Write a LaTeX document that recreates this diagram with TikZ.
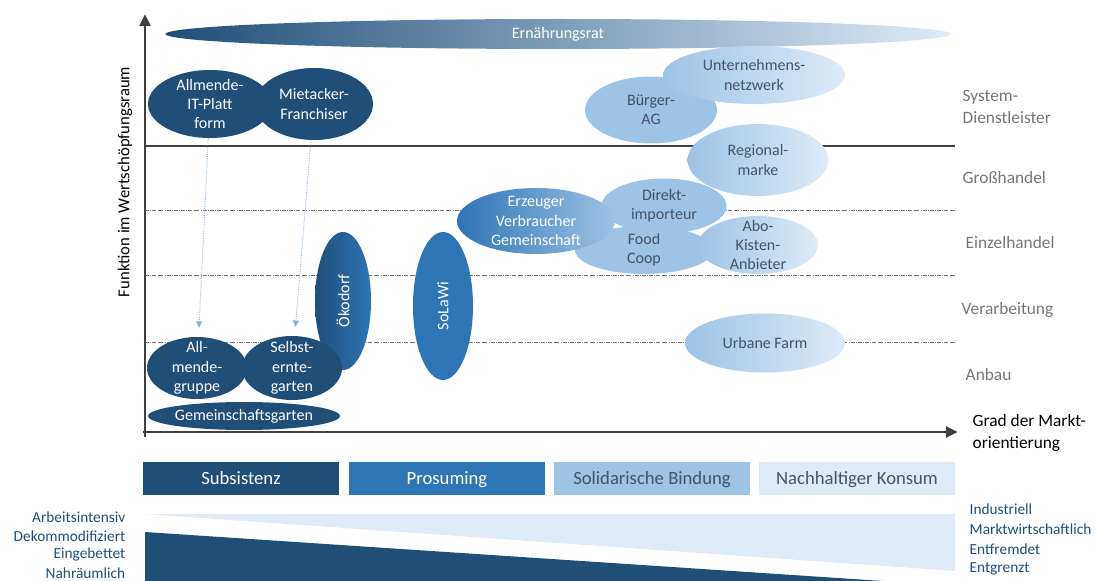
\documentclass[tikz,border=0pt]{standalone}
\usepackage{fontspec}
\setmainfont{Carlito}
\usetikzlibrary{shapes.geometric,arrows.meta}

\definecolor{dkblue}{RGB}{31,78,121}
\definecolor{mdblue}{RGB}{46,117,182}
\definecolor{ltblue}{RGB}{157,195,230}
\definecolor{paleblue}{RGB}{222,235,247}
\definecolor{slate}{RGB}{68,84,106}
\definecolor{axisgray}{RGB}{64,64,64}
\definecolor{levelgray}{RGB}{118,118,118}

\tikzset{
  blob/.style={ellipse, inner sep=-12pt, outer sep=0pt, align=center, font=\fontsize{12}{14.5}\selectfont},
  blobsize/.style 2 args={minimum width=#1*0.75pt, minimum height=#2*0.75pt},
  darkblob/.style={blob, fill=dkblue, text=white},
  lightblob/.style={blob, fill=ltblue, text=slate},
  fadeblob/.style={blob, left color=ltblue, right color=paleblue, text=slate},
  level/.style={anchor=west, align=left, text=levelgray, font=\fontsize{13}{16}\selectfont},
  bar/.style={minimum width=147pt, minimum height=24.75pt, inner sep=0pt, text height=11pt, text depth=2pt, font=\fontsize{14}{16}\selectfont},
  trait/.style={text=dkblue, font=\fontsize{11.5}{14}\selectfont},
  gridline/.style={levelgray, densely dashdotted, line width=0.5pt},
  guide/.style={ltblue!80!mdblue, densely dotted, line width=0.7pt, -{Triangle[length=5pt,width=4.5pt]}, shorten >=6.75pt},
  axis/.style={axisgray, line width=2.2pt, -{Triangle[length=9pt,width=8pt]}}
}

\begin{document}
\begin{tikzpicture}[x=0.75pt, y=-0.75pt]
\useasboundingbox (0,0) rectangle (1097,581);

\foreach \y in {210,275,342}
  \draw [gridline] (145,\y) -- (955,\y);
\draw [axisgray, line width=0.9pt] (145,146) -- (955,146);
\draw [axis] (145,437) -- (145,14);
\draw [axis] (143,432) -- (958,432);

\node [rotate=90, font=\fontsize{12.5}{15}\selectfont] (yaxis) at (125,182) {Funktion im Wertschöpfungsraum};
\node [anchor=west, align=left, font=\fontsize{13}{16}\selectfont] (xaxis) at (968,433) {Grad der Markt-\\orientierung};

\node [level] (system) at (958,107) {System-\\Dienstleister};
\node [level] (gross) at (958,178) {Großhandel};
\node [level] (einzel) at (961,243) {Einzelhandel};
\node [level] (verarb) at (957,310) {Verarbeitung};
\node [level] (anbau) at (961,375) {Anbau};

\node [blob, blobsize={785}{30}, left color=dkblue, middle color=mdblue!85!ltblue, right color=paleblue, text=white] (rat) at (558,34) {Ernährungsrat};

\node [darkblob, blobsize={124}{68}] (itplatt) at (210,104) {Allmende-\\IT-Platt\\form};
\node [darkblob, blobsize={118}{72}] (mietacker) at (314,104) {Mietacker-\\Franchiser};
\node [blob, blobsize={56}{138}, left color=dkblue, right color=mdblue, text=white] (oekodorf) at (343,301) {\rotatebox{90}{Ökodorf}};
\node [darkblob, blobsize={100}{62}] (allgruppe) at (197,368) {All-\\mende-\\gruppe};
\node [darkblob, blobsize={100}{64}] (selbsternte) at (292,368) {Selbst-\\ernte-\\garten};
\node [darkblob, blobsize={192}{28}] (gemgarten) at (244,416) {Gemeinschaftsgarten};
\node [blob, blobsize={60}{148}, fill=mdblue, text=white] (solawi) at (443,306) {\rotatebox{90}{SoLaWi}};

\node [lightblob, blobsize={132}{67}] (buerger) at (651,110) {Bürger-\\AG};
\node [fadeblob, blobsize={182}{58}] (netzwerk) at (754,75) {Unternehmens-\\netzwerk};
\node [fadeblob, blobsize={141}{72}] (regional) at (758,160) {Regional-\\marke};
\node [lightblob, blobsize={138}{48}] (foodcoop) at (644,250) {Food\\Coop};
\node [lightblob, blobsize={125}{55}] (direkt) at (664,206) {Direkt-\\importeur};
\node [blob, blobsize={158}{66}, left color=mdblue, right color=ltblue, text=white] (evg) at (536,221) {Erzeuger\\Verbraucher\\Gemeinschaft};
\node [fadeblob, blobsize={120}{58}] (abo) at (758,245) {Abo-\\Kisten-\\Anbieter};
\node [fadeblob, blobsize={160}{59}] (urban) at (765,343) {Urbane Farm};

\draw [guide] (itplatt) -- (allgruppe);
\draw [guide] (mietacker) -- (selbsternte);

\node [bar, fill=dkblue, text=white] (subsistenz) at (241,478) {Subsistenz};
\node [bar, fill=mdblue, text=white] (prosuming) at (447,478) {Prosuming};
\node [bar, fill=ltblue, text=slate] (solidarisch) at (652,478) {Solidarische Bindung};
\node [bar, fill=paleblue, text=slate] (konsum) at (857,478) {Nachhaltiger Konsum};

\fill [paleblue] (145,514) -- (955,514) -- (955,571) -- cycle;
\fill [dkblue] (145,532) -- (913,583) -- (145,583) -- cycle;
\foreach \t [count=\i] in {Arbeitsintensiv,Dekommodifiziert,Eingebettet,Nahräumlich}
  \node [trait, anchor=east] (left\i) at (130,499+18.5*\i) {\t};
\foreach \t [count=\i] in {Industriell,Marktwirtschaftlich,Entfremdet,Entgrenzt}
  \node [trait, anchor=west] (right\i) at (965,490+19.7*\i) {\t};
\end{tikzpicture}
\end{document}
